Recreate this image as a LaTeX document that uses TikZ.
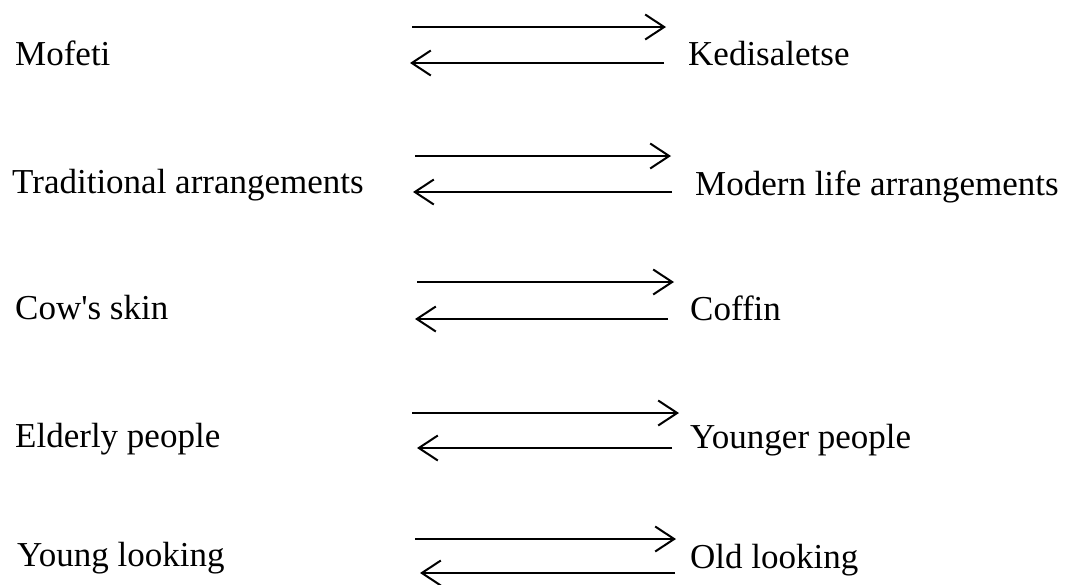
\documentclass[tikz,border=0pt]{standalone}
\usepackage{fontspec}
\setmainfont{Liberation Serif}
\usetikzlibrary{arrows.meta}

\tikzset{
  term/.style={anchor=base west, inner sep=0pt, font=\fontsize{35}{42}\selectfont},
  flow/.style={line width=1.3pt, -{Straight Barb[length=19pt,width=25pt,line width=2pt]}}
}

\begin{document}
\begin{tikzpicture}[x=1pt,y=-1pt]
  \useasboundingbox (0,0) rectangle (1068,584);

  % Mofeti <-> Kedisaletse
  \node[term] (mofeti) at (15,65) {Mofeti};
  \node[term] (kedisaletse) at (688,65) {Kedisaletse};
  \coordinate (mofeti-a) at (412,27);  \coordinate (mofeti-b) at (666,27);
  \coordinate (mofeti-c) at (410,63);  \coordinate (mofeti-d) at (664,63);
  \draw[flow] (mofeti-a) -- (mofeti-b);
  \draw[flow] (mofeti-d) -- (mofeti-c);

  % Traditional <-> Modern life arrangements
  \node[term] (traditional) at (12,193) {Traditional arrangements};
  \node[term] (modern) at (695,195) {Modern life arrangements};
  \coordinate (trad-a) at (415,156);  \coordinate (trad-b) at (671,156);
  \coordinate (trad-c) at (413,192);  \coordinate (trad-d) at (672,192);
  \draw[flow] (trad-a) -- (trad-b);
  \draw[flow] (trad-d) -- (trad-c);

  % Cow's skin <-> Coffin
  \node[term] (cowskin) at (15,319) {Cow\textquotesingle s skin};
  \node[term] (coffin) at (690,320) {Coffin};
  \coordinate (cow-a) at (417,282);  \coordinate (cow-b) at (674,282);
  \coordinate (cow-c) at (415,319);  \coordinate (cow-d) at (668,319);
  \draw[flow] (cow-a) -- (cow-b);
  \draw[flow] (cow-d) -- (cow-c);

  % Elderly <-> Younger people
  \node[term] (elderly) at (15,447) {Elderly people};
  \node[term] (younger) at (690,448) {Younger people};
  \coordinate (eld-a) at (412,413);  \coordinate (eld-b) at (679,413);
  \coordinate (eld-c) at (417,448);  \coordinate (eld-d) at (672,448);
  \draw[flow] (eld-a) -- (eld-b);
  \draw[flow] (eld-d) -- (eld-c);

  % Young looking <-> Old looking
  \node[term] (young) at (17,566) {Young looking};
  \node[term] (old) at (690,568) {Old looking};
  \coordinate (yng-a) at (415,539);  \coordinate (yng-b) at (676,539);
  \coordinate (yng-c) at (420,573);  \coordinate (yng-d) at (675,573);
  \draw[flow] (yng-a) -- (yng-b);
  \draw[flow] (yng-d) -- (yng-c);
\end{tikzpicture}
\end{document}
